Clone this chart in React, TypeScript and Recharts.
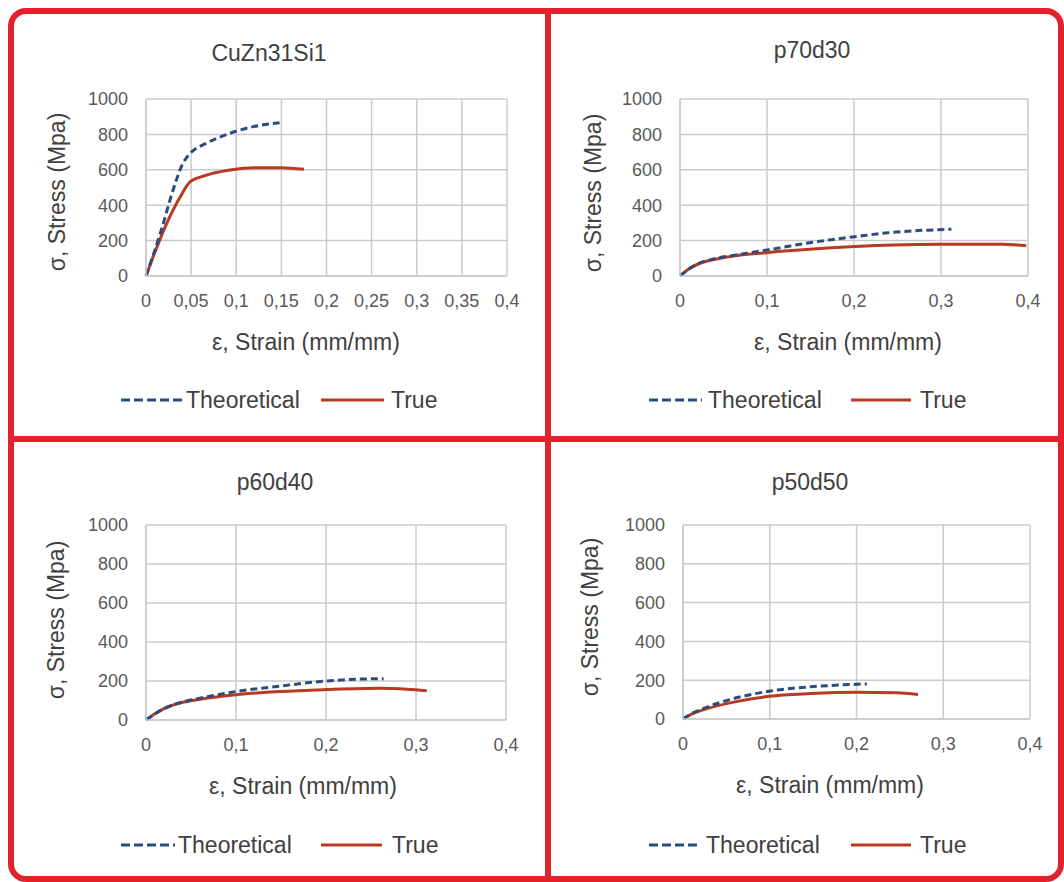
import React from "react";
import { LineChart, Line, XAxis, YAxis, CartesianGrid } from "recharts";

// stress-strain readings (strain in mm/mm, stress in MPa)
const cuznTheoStrain = [0, 0.017, 0.03, 0.041, 0.049, 0.067, 0.093, 0.119, 0.148];
const cuznTheoStress = [0, 260, 486, 637, 693, 750, 806, 844, 866];
const cuznTrueStrain = [0, 0.023, 0.038, 0.049, 0.064, 0.093, 0.123, 0.15, 0.175];
const cuznTrueStress = [0, 298, 448, 533, 565, 599, 612, 612, 603];

const p70TheoStrain = [0, 0.01, 0.02, 0.04, 0.06, 0.1, 0.149, 0.201, 0.245, 0.312];
const p70TheoStress = [0, 38, 68, 98, 115, 147, 188, 222, 247, 264];
const p70TrueStrain = [0, 0.01, 0.023, 0.046, 0.1, 0.149, 0.201, 0.245, 0.3, 0.37, 0.398];
const p70TrueStress = [0, 40, 72, 100, 132, 151, 166, 175, 179, 179, 171];

const p60TheoStrain = [0, 0.01, 0.02, 0.041, 0.06, 0.1, 0.149, 0.2, 0.24, 0.264];
const p60TheoStress = [0, 32, 58, 93, 112, 146, 174, 200, 210, 212];
const p60TrueStrain = [0, 0.01, 0.019, 0.041, 0.06, 0.1, 0.149, 0.2, 0.26, 0.29, 0.312];
const p60TrueStress = [0, 32, 56, 91, 106, 129, 146, 156, 163, 158, 150];

const p50TheoStrain = [0, 0.01, 0.024, 0.054, 0.099, 0.147, 0.18, 0.212];
const p50TheoStress = [0, 28, 55, 100, 143, 166, 175, 181];
const p50TrueStrain = [0, 0.01, 0.024, 0.054, 0.099, 0.147, 0.199, 0.246, 0.271];
const p50TrueStress = [0, 25, 48, 83, 117, 131, 138, 135, 126];

const stressTicks = [0, 200, 400, 600, 800, 1000];
const fineStrainTicks = [0, 0.05, 0.1, 0.15, 0.2, 0.25, 0.3, 0.35, 0.4];
const strainTicks = [0, 0.1, 0.2, 0.3, 0.4];

const THEO = "#2b4c7e";
const TRUE = "#b83a22";
const RED = "#e3232c";
const FONT = "'Liberation Sans', Arial, sans-serif";

const pairs = (xs: number[], ys: number[]) => xs.map((x, i) => ({ x, y: ys[i] }));
const comma = (v: number) => String(v).replace(".", ",");

type PanelProps = {
	title: string;
	plot: { l: number; t: number; r: number; b: number };
	titleAt: [number, number];
	xTitleAt: [number, number];
	yTitleAt: [number, number];
	legend: { y: number; dash: [number, number]; theo: number; line: [number, number]; tru: number };
	xTicks: number[];
	theo: { x: number; y: number }[];
	tru: { x: number; y: number }[];
};

const Panel = ({ title, plot, titleAt, xTitleAt, yTitleAt, legend, xTicks, theo, tru }: PanelProps) => {
	const w = plot.r - plot.l;
	const h = plot.b - plot.t;
	const textStyle: React.CSSProperties = {
		position: "absolute",
		fontFamily: FONT,
		color: "#404040",
		whiteSpace: "nowrap",
		lineHeight: 1,
	};
	return (
		<>
			<div style={{ ...textStyle, left: titleAt[0], top: titleAt[1], fontSize: 23, transform: "translate(-50%, -50%)" }}>
				{title}
			</div>
			<div style={{ ...textStyle, left: xTitleAt[0], top: xTitleAt[1], fontSize: 23, transform: "translate(-50%, -50%)" }}>
				ε, Strain (mm/mm)
			</div>
			<div
				style={{
					...textStyle,
					left: yTitleAt[0],
					top: yTitleAt[1],
					fontSize: 23,
					transform: "translate(-50%, -50%) rotate(-90deg)",
				}}
			>
				σ, Stress (Mpa)
			</div>
			<div style={{ position: "absolute", left: plot.l - 60, top: plot.t - 10 }}>
				<LineChart width={w + 90} height={h + 60} margin={{ top: 10, right: 30, left: 0, bottom: 20 }}>
					<CartesianGrid stroke="#cbcbcb" strokeWidth={1.5} />
					<XAxis
						type="number"
						dataKey="x"
						domain={[0, 0.4]}
						ticks={xTicks}
						interval={0}
						tickFormatter={comma}
						axisLine={{ stroke: "#cbcbcb", strokeWidth: 1.5 }}
						tickLine={false}
						tickMargin={12}
						height={30}
						tick={{ fill: "#595959", fontSize: 18, fontFamily: FONT }}
					/>
					<YAxis
						type="number"
						domain={[0, 1000]}
						ticks={stressTicks}
						interval={0}
						axisLine={{ stroke: "#cbcbcb", strokeWidth: 1.5 }}
						tickLine={false}
						tickMargin={12}
						width={60}
						tick={{ fill: "#595959", fontSize: 18, fontFamily: FONT }}
					/>
					<Line
						data={tru}
						dataKey="y"
						name="True"
						type="monotone"
						stroke={TRUE}
						strokeWidth={3}
						dot={false}
						isAnimationActive={false}
					/>
					<Line
						data={theo}
						dataKey="y"
						name="Theoretical"
						type="monotone"
						stroke={THEO}
						strokeWidth={3}
						strokeDasharray="7 4"
						dot={false}
						isAnimationActive={false}
					/>
				</LineChart>
			</div>
			<svg style={{ position: "absolute", left: 0, top: legend.y - 5 }} width={1064} height={10}>
				<line x1={legend.dash[0]} x2={legend.dash[1]} y1={5} y2={5} stroke={THEO} strokeWidth={3} strokeDasharray="9 4" />
				<line x1={legend.line[0]} x2={legend.line[1]} y1={5} y2={5} stroke={TRUE} strokeWidth={3} />
			</svg>
			<div style={{ ...textStyle, left: legend.theo, top: legend.y, fontSize: 23, transform: "translateY(-50%)" }}>
				Theoretical
			</div>
			<div style={{ ...textStyle, left: legend.tru, top: legend.y, fontSize: 23, transform: "translateY(-50%)" }}>
				True
			</div>
		</>
	);
};

export default function App() {
	return (
		<div style={{ position: "absolute", left: 0, top: 0, width: 1064, height: 882, background: "#fff", overflow: "hidden" }}>
			<div
				style={{
					position: "absolute",
					left: 8,
					top: 8,
					width: 1056,
					height: 874,
					boxSizing: "border-box",
					border: `6px solid ${RED}`,
					borderRadius: 18,
				}}
			/>
			<div style={{ position: "absolute", left: 545, top: 8, width: 6, height: 874, background: RED }} />
			<div style={{ position: "absolute", left: 8, top: 436, width: 1056, height: 6, background: RED }} />

			<Panel
				title="CuZn31Si1"
				plot={{ l: 146, t: 99, r: 507, b: 276 }}
				titleAt={[269, 53]}
				xTitleAt={[306, 342]}
				yTitleAt={[57, 192]}
				legend={{ y: 400, dash: [121, 184], theo: 186, line: [321, 384], tru: 391 }}
				xTicks={fineStrainTicks}
				theo={pairs(cuznTheoStrain, cuznTheoStress)}
				tru={pairs(cuznTrueStrain, cuznTrueStress)}
			/>
			<Panel
				title="p70d30"
				plot={{ l: 680, t: 99, r: 1028, b: 276 }}
				titleAt={[812, 50]}
				xTitleAt={[848, 342]}
				yTitleAt={[593, 193]}
				legend={{ y: 400, dash: [649, 702], theo: 708, line: [851, 911], tru: 920 }}
				xTicks={strainTicks}
				theo={pairs(p70TheoStrain, p70TheoStress)}
				tru={pairs(p70TrueStrain, p70TrueStress)}
			/>
			<Panel
				title="p60d40"
				plot={{ l: 146, t: 525, r: 506, b: 720 }}
				titleAt={[275, 482]}
				xTitleAt={[303, 786]}
				yTitleAt={[56, 620]}
				legend={{ y: 845, dash: [121, 175], theo: 178, line: [321, 382], tru: 392 }}
				xTicks={strainTicks}
				theo={pairs(p60TheoStrain, p60TheoStress)}
				tru={pairs(p60TrueStrain, p60TrueStress)}
			/>
			<Panel
				title="p50d50"
				plot={{ l: 683, t: 525, r: 1030, b: 719 }}
				titleAt={[810, 482]}
				xTitleAt={[830, 785]}
				yTitleAt={[590, 617]}
				legend={{ y: 845, dash: [649, 700], theo: 706, line: [851, 911], tru: 920 }}
				xTicks={strainTicks}
				theo={pairs(p50TheoStrain, p50TheoStress)}
				tru={pairs(p50TrueStrain, p50TrueStress)}
			/>
		</div>
	);
}
